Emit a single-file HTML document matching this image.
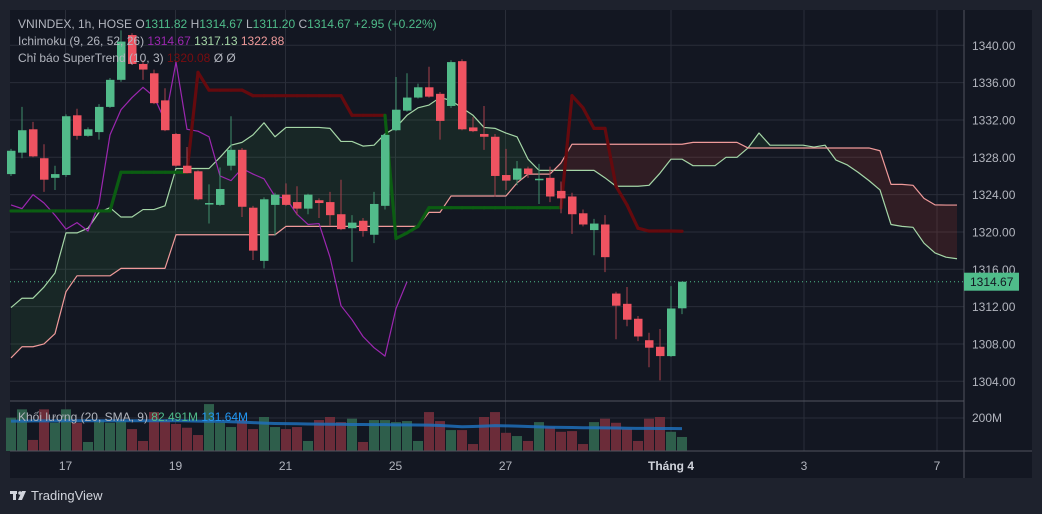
<!DOCTYPE html>
<html><head><meta charset="utf-8">
<style>
html,body{margin:0;padding:0;background:#1e222d;width:1042px;height:514px;overflow:hidden}
svg{display:block}
text{font-family:"Liberation Sans","Noto Sans CJK SC",sans-serif}
</style></head>
<body>
<svg id="chart" width="1042" height="514" viewBox="0 0 1042 514" xmlns="http://www.w3.org/2000/svg">
  <rect x="0" y="0" width="1042" height="514" fill="#1e222d"/>
  <rect x="10" y="10" width="1022" height="468" fill="#131722"/>
  <g id="grid"></g>
  <g id="cloud"></g>
  <g id="lines"></g>
  <g id="volume"></g>
  <g id="candles"></g>
  <g id="axes"></g>
  <g font-size="12">
    <text x="18" y="28" fill="#b2b5be">VNINDEX, 1h, HOSE  <tspan>O</tspan><tspan fill="#4fbc8a">1311.82</tspan>  <tspan>H</tspan><tspan fill="#4fbc8a">1314.67</tspan>  <tspan>L</tspan><tspan fill="#4fbc8a">1311.20</tspan>  <tspan>C</tspan><tspan fill="#4fbc8a">1314.67</tspan>  <tspan fill="#4fbc8a">+2.95 (+0.22%)</tspan></text>
    <text x="18" y="45" fill="#b2b5be">Ichimoku (9, 26, 52, 26) <tspan fill="#9c27b0">1314.67</tspan> <tspan fill="#a5d6a7">1317.13</tspan> <tspan fill="#ef9a9a">1322.88</tspan></text>
    <text x="18" y="62" fill="#b2b5be">Chỉ báo SuperTrend (10, 3) <tspan fill="#7a0c10">1320.08</tspan>  <tspan>Ø</tspan>  <tspan>Ø</tspan></text>
    <text x="18" y="421" fill="#b2b5be">Khối lượng (20, SMA, 9) <tspan fill="#4fbc8a">82.491M</tspan> <tspan fill="#2196f3">131.64M</tspan></text>
  </g>
  <g>
    <rect x="10" y="491" width="7" height="3" fill="#d1d4dc"/>
    <rect x="13" y="491" width="3" height="9" fill="#d1d4dc"/>
    <circle cx="20" cy="493" r="1.8" fill="#d1d4dc"/>
    <polygon points="22,491 26,491 22,500 18,500" fill="#d1d4dc"/>
    <text x="31" y="500" font-size="13" fill="#d1d4dc">TradingView</text>
  </g>
</svg>
<script>
// ---------- data ----------
const opens  = [1326.2,1328.5,1331.0,1327.9,1325.8,1326.1,1332.5,1330.3,1330.7,1333.4,1336.3,1341.1,1338.0,1337.0,1334.1,1330.5,1327.1,1326.5,1323.05,1322.9,1327.1,1328.8,1322.6,1316.9,1322.9,1324.0,1323.2,1322.5,1323.4,1323.2,1321.9,1320.4,1321.2,1319.7,1322.8,1330.9,1333.0,1334.4,1335.5,1334.8,1333.5,1338.3,1331.2,1330.5,1330.2,1326.1,1325.6,1326.8,1325.6,1325.8,1324.4,1323.8,1322.0,1320.2,1320.8,1313.4,1312.3,1310.7,1308.4,1307.7,1306.7,1311.82];
const highs  = [1328.9,1333.4,1331.8,1329.4,1327.1,1332.6,1333.2,1331.2,1333.7,1336.5,1341.6,1341.3,1338.4,1337.4,1335.4,1330.6,1329.1,1326.6,1325.1,1326.9,1332.4,1329.0,1322.8,1323.7,1324.2,1325.2,1324.9,1324.1,1323.6,1324.3,1325.6,1321.8,1321.5,1324.3,1330.6,1336.6,1337.0,1335.9,1337.7,1335.0,1338.4,1338.5,1332.3,1333.5,1330.5,1328.9,1327.6,1327.0,1327.3,1327.0,1325.4,1324.2,1322.4,1321.4,1321.8,1313.6,1314.1,1311.0,1309.2,1309.6,1314.2,1314.67];
const lows   = [1326.0,1327.9,1328.0,1324.3,1324.5,1325.9,1329.9,1330.2,1329.9,1333.3,1336.1,1337.9,1336.3,1333.7,1330.8,1327.0,1326.3,1323.4,1320.9,1322.8,1326.6,1321.6,1317.0,1316.1,1319.6,1322.8,1321.8,1321.9,1321.5,1320.7,1320.2,1316.8,1319.5,1318.8,1322.4,1330.8,1332.9,1334.3,1334.4,1329.9,1333.3,1330.9,1330.7,1328.8,1323.8,1324.5,1325.0,1325.8,1323.0,1323.2,1322.0,1319.8,1320.6,1317.5,1315.7,1308.5,1309.9,1308.3,1305.5,1304.1,1306.6,1311.20];
const closes = [1328.7,1330.9,1328.1,1325.6,1326.2,1332.4,1330.3,1331.0,1333.4,1336.3,1340.4,1338.0,1337.4,1333.8,1330.9,1327.1,1326.3,1323.5,1323.1,1324.6,1328.8,1322.7,1318.0,1323.5,1324.0,1322.9,1322.5,1324.0,1323.1,1321.8,1320.3,1321.0,1320.1,1323.0,1330.4,1333.1,1334.4,1335.5,1334.5,1331.9,1338.2,1331.0,1330.8,1330.2,1326.0,1325.5,1326.8,1326.2,1325.7,1323.8,1323.6,1321.9,1320.8,1320.9,1317.3,1312.1,1310.6,1308.8,1307.6,1306.7,1311.8,1314.67];
const volumes = [196,245,65,245,166,245,166,53,182,166,182,129,59,229,182,159,137,94,276,166,141,182,129,200,141,129,141,59,182,200,170,190,53,182,182,170,176,59,229,176,123,123,41,200,229,107,88,59,170,141,113,117,41,170,190,166,129,59,190,200,113,82.491];
const volSma = [176,176,177,177,177,178,178,178,178,178,178,178,178,178,178,178,177,176,175,174,172,170,167,164,162,161,160,159,158,157,157,156,156,155,155,154,154,153,152,150,146,143,144,146,149,148,146,144,142,140,139,138,137,137,136,135,134,133,133,132,132,131.64];
const spanA = [1311.9,1312.9,1312.9,1314.1,1315.6,1319.9,1319.9,1320.4,1322.1,1322.6,1321.6,1321.6,1322.4,1322.4,1322.8,1326.8,1326.8,1326.8,1326.8,1328.0,1329.3,1329.6,1330.4,1331.7,1330.2,1331.2,1331.2,1331.2,1331.2,1331.1,1329.7,1329.7,1329.2,1329.3,1330.5,1331.2,1332.5,1333.3,1333.6,1334.4,1334.1,1333.3,1332.5,1331.2,1331.1,1330.6,1330.2,1327.8,1326.6,1326.6,1326.6,1326.6,1326.6,1326.6,1325.8,1324.9,1324.9,1324.9,1325.0,1326.3,1327.8,1327.8,1327.1,1327.1,1327.1,1328.0,1328.0,1329.0,1330.6,1329.3,1329.3,1329.3,1329.3,1329.1,1329.3,1327.7,1327.2,1326.4,1325.5,1324.5,1320.8,1320.6,1320.5,1318.8,1317.75,1317.3,1317.13];
const spanB = [1306.5,1307.7,1307.7,1308.0,1309.1,1313.6,1315.3,1315.3,1315.3,1315.3,1316.1,1316.1,1316.1,1316.1,1316.1,1319.7,1319.7,1319.7,1319.7,1319.7,1319.7,1319.7,1319.7,1319.7,1319.7,1320.6,1320.6,1320.6,1320.6,1320.6,1320.6,1320.6,1320.6,1320.6,1320.6,1320.6,1320.6,1320.6,1322.1,1322.1,1323.85,1323.85,1323.85,1323.85,1323.85,1323.85,1325.25,1326.2,1326.2,1326.2,1327.4,1329.4,1329.4,1329.4,1329.4,1329.4,1329.4,1329.4,1329.4,1329.4,1329.4,1329.4,1329.6,1329.6,1329.6,1329.6,1329.6,1329.0,1329.0,1329.0,1329.0,1329.0,1329.0,1329.0,1329.0,1329.0,1329.0,1329.0,1329.0,1328.7,1325.1,1325.1,1325.0,1323.6,1322.9,1322.88,1322.88];
const superTrend = [1322.25,1322.25,1322.25,1322.25,1322.25,1322.25,1322.25,1322.25,1322.25,1322.25,1326.4,1326.4,1326.4,1326.4,1326.4,1326.4,1326.4,1337.1,1335.2,1335.2,1335.2,1335.2,1334.6,1334.6,1334.6,1334.6,1334.6,1334.6,1334.6,1334.6,1334.6,1332.5,1332.5,1332.5,1332.5,1319.3,1319.9,1320.6,1322.6,1322.6,1322.6,1322.6,1322.6,1322.6,1322.6,1322.6,1322.6,1322.6,1322.6,1322.6,1322.6,1334.6,1333.3,1331.1,1331.1,1324.9,1322.9,1320.4,1320.1,1320.1,1320.1,1320.08];
const trendUp = [1,1,1,1,1,1,1,1,1,1,1,1,1,1,1,1,1,0,0,0,0,0,0,0,0,0,0,0,0,0,0,0,0,0,0,1,1,1,1,1,1,1,1,1,1,1,1,1,1,1,1,0,0,0,0,0,0,0,0,0,0,0];
const laggingShift = 25;
const priceTicks = [1340,1336,1332,1328,1324,1320,1316,1312,1308,1304];
const timeLabels = ["17","19","21","25","27","Tháng 4","3","7"];
const timeLabelBars = [5,15,25,35,45,60,72,84];
const lastPrice = 1314.67;

// ---------- scales ----------
const X0 = 11, STEP = 11.0;
function xAt(i){ return X0 + STEP*i; }
function yP(p){ return 45.3 + (1340 - p)*9.333; }
function yV(v){ return 451 - v*0.17; }
const NS = "http://www.w3.org/2000/svg";
function mk(tag, attrs, parent){
  const e = document.createElementNS(NS, tag);
  for (const k in attrs) e.setAttribute(k, attrs[k]);
  parent.appendChild(e); return e;
}
const gGrid = document.getElementById('grid');
const gCloud = document.getElementById('cloud');
const gLines = document.getElementById('lines');
const gVol = document.getElementById('volume');
const gC = document.getElementById('candles');
const gAx = document.getElementById('axes');

// ---------- grid ----------
priceTicks.forEach(p => {
  const l = mk('line', {x1:10, x2:964, y1:yP(p), y2:yP(p), stroke:'#2a2e39', 'stroke-width':1}, gGrid);
  
  
  const t = mk('text', {x:972, y:yP(p)+4.5, fill:'#b2b5be', 'font-size':12}, gAx);
  t.textContent = p.toFixed(2);
  
  
});
const vgl = mk('line', {x1:10, x2:964, y1:418, y2:418, stroke:'#2a2e39'}, gGrid);


timeLabels.forEach((lab, k) => {
  const x = xAt(timeLabelBars[k]);
  const gx = k===5 ? 671 : (k===6 ? 804 : (k===7 ? 937 : x - 0.5));
  const l = mk('line', {x1:gx, x2:gx, y1:10, y2:451, stroke:'#2a2e39'}, gGrid);
  
  
  const t = mk('text', {x:gx, y:470, fill: k===5 ? '#d1d4dc' : '#b2b5be', 'font-size':12, 'text-anchor':'middle', 'font-weight': k===5 ? 'bold' : 'normal'}, gAx);
  t.textContent = lab;
  
  
});
[[10,401,964,401],[10,451,1032,451],[964,10,964,478]].forEach(c => {
  const l = mk('line', {x1:c[0], y1:c[1], x2:c[2], y2:c[3], stroke:'#50535e', 'stroke-width':1}, gAx);
  
  
});
const vlab = mk('text', {x:972, y:422, fill:'#b2b5be', 'font-size':12}, gAx);
vlab.textContent = '200M';



// ---------- cloud ----------
for (let i = 0; i < spanA.length - 1; i++) {
  const xa = xAt(i), xb = xAt(i+1);
  const a0 = spanA[i], a1 = spanA[i+1], b0 = spanB[i], b1 = spanB[i+1];
  const d0 = a0 - b0, d1 = a1 - b1;
  const col = d => d >= 0 ? 'rgba(67,160,71,0.12)' : 'rgba(244,67,54,0.13)';
  if (d0*d1 >= 0) {
    const q = mk('polygon', {points:`${xa},${yP(a0)} ${xb},${yP(a1)} ${xb},${yP(b1)} ${xa},${yP(b0)}`, fill: col(d0+d1)}, gCloud);
    
    
  } else {
    const t = d0/(d0-d1), xm = xa + (xb-xa)*t, pm = a0 + (a1-a0)*t;
    const q1 = mk('polygon', {points:`${xa},${yP(a0)} ${xm},${yP(pm)} ${xa},${yP(b0)}`, fill: col(d0)}, gCloud);
    
    
    const q2 = mk('polygon', {points:`${xm},${yP(pm)} ${xb},${yP(a1)} ${xb},${yP(b1)}`, fill: col(d1)}, gCloud);
    
    
  }
}
function poly(arr, color, w, name){
  const pts = arr.map((v,k) => `${xAt(k)},${yP(v)}`).join(' ');
  const p = mk('polyline', {points:pts, fill:'none', stroke:color, 'stroke-width':w, 'stroke-linejoin':'round'}, gLines);
  
  
}
poly(spanA, '#a5d6a7', 1.2, 'leading-span-a');
poly(spanB, '#ef9a9a', 1.2, 'leading-span-b');
poly(closes.slice(laggingShift), '#9c27b0', 1.2, 'lagging-span');

for (let i = 0; i < superTrend.length - 1; i++) {
  const up = trendUp[i+1] === 1;
  const s = mk('line', {x1:xAt(i), y1:yP(superTrend[i]), x2:xAt(i+1), y2:yP(superTrend[i+1]), stroke: up ? '#0b5d12' : '#650a0e', 'stroke-width':3.2, 'stroke-linecap':'round'}, gLines);
  
  
}

// ---------- volume ----------
volumes.forEach((v,i) => {
  const up = closes[i] >= opens[i];
  const r = mk('rect', {x:xAt(i)-5, y:yV(v), width:10, height:451-yV(v), fill: up ? '#2e5e4b' : '#6b2c39'}, gVol);
  
  
});
const smaPts = volSma.map((v,i) => `${xAt(i)},${yV(v)}`).join(' ');
const sl = mk('polyline', {points:smaPts, fill:'none', stroke:'#1f6fb8', 'stroke-width':3, 'stroke-opacity':0.85}, gVol);



// ---------- candles ----------
opens.forEach((o,i) => {
  const c = closes[i], up = c >= o, col = up ? '#52bb8a' : '#ef5361';
  const x = xAt(i);
  const w = mk('line', {x1:x, x2:x, y1:yP(highs[i]), y2:yP(lows[i]), stroke: up ? '#3f8f6c' : '#a8404c', 'stroke-width':1}, gC);
  
  
  const top = yP(Math.max(o,c)), h = Math.max(1.5, Math.abs(yP(o)-yP(c)));
  const b = mk('rect', {x:x-4, y:top, width:8.5, height:h, fill:col}, gC);
  
  
});

// ---------- last price ----------
const ly = yP(lastPrice);
const dl = mk('line', {x1:10, x2:964, y1:ly, y2:ly, stroke:'#4fbc8a', 'stroke-width':1, 'stroke-dasharray':'1,3'}, gAx);


const lb = mk('rect', {x:964, y:ly-9, width:55, height:18, fill:'#4fbc8a'}, gAx);


const lt = mk('text', {x:970, y:ly+4.5, fill:'#131722', 'font-size':12}, gAx);
lt.textContent = lastPrice.toFixed(2);


</script>
</body></html>
